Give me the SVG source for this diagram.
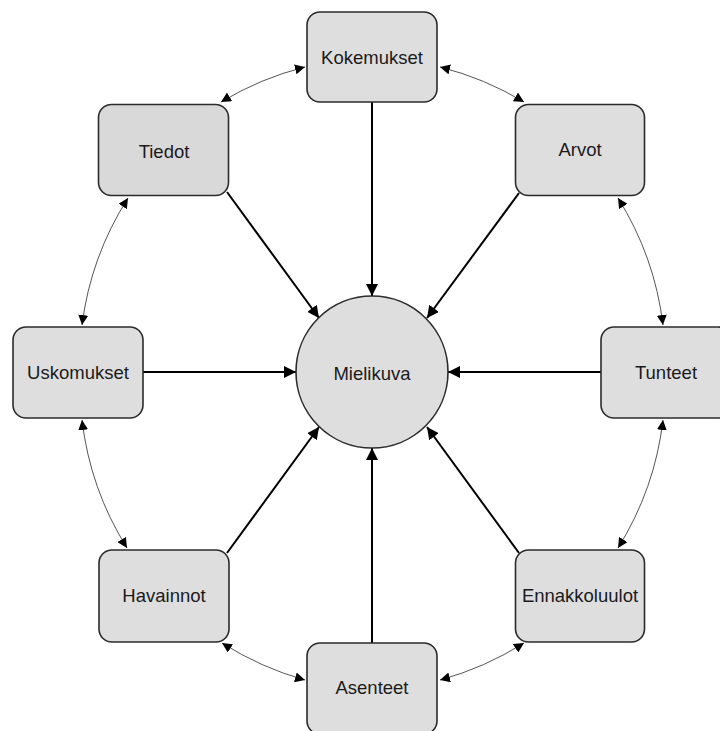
<svg xmlns="http://www.w3.org/2000/svg" width="720" height="731" viewBox="0 0 720 731">
<style>
.box{fill:#dfdedf;stroke:#2b2b2b;stroke-width:1.6}
.lbl{font-family:"Liberation Sans",Arial,sans-serif;font-size:18.5px;fill:#1a1a1a;text-anchor:middle;dominant-baseline:central}
.main{stroke:#000;stroke-width:2;fill:none;marker-end:url(#ah)}
.rel{stroke:#555;stroke-width:1;fill:none;marker-start:url(#sh);marker-end:url(#sh)}
</style>
<defs>
<marker id="ah" markerUnits="userSpaceOnUse" markerWidth="14" markerHeight="12" refX="12" refY="6" orient="auto">
<path d="M0,0 L12,6 L0,12 z" fill="#000"/>
</marker>
<marker id="sh" markerUnits="userSpaceOnUse" markerWidth="12" markerHeight="10" refX="10" refY="5" orient="auto-start-reverse">
<path d="M0,0 L10,5 L0,10 z" fill="#000"/>
</marker>
</defs>
<rect width="720" height="731" fill="#fff"/>
<g id="connectors">
<line class="main" x1="372" y1="102" x2="372" y2="296"/>
<line class="main" x1="143" y1="372" x2="296" y2="372"/>
<line class="main" x1="601" y1="372" x2="448" y2="372"/>
<line class="main" x1="372" y1="643" x2="372" y2="448"/>
<line class="main" x1="227" y1="192" x2="319" y2="318"/>
<line class="main" x1="519" y1="193" x2="427" y2="318"/>
<line class="main" x1="227" y1="553" x2="319" y2="427"/>
<line class="main" x1="519" y1="553" x2="427" y2="427"/>
<path class="rel" d="M440,67 A310,310 0 0 1 524,102"/>
<path class="rel" d="M618,198 A310,310 0 0 1 663,325"/>
<path class="rel" d="M663,420 A310,310 0 0 1 618,548"/>
<path class="rel" d="M524,643 A310,310 0 0 1 440,680"/>
<path class="rel" d="M305,680 A310,310 0 0 1 222,643"/>
<path class="rel" d="M127,548 A310,310 0 0 1 82,420"/>
<path class="rel" d="M82,325 A310,310 0 0 1 128,198"/>
<path class="rel" d="M221,102 A310,310 0 0 1 305,67"/>
</g>
<g id="mielikuva">
<circle class="box" cx="372" cy="372" r="76"/>
<text class="lbl" x="372" y="373">Mielikuva</text>
</g>
<g id="kokemukset">
<rect class="box" x="307" y="12" width="130" height="90" rx="13"/>
<text class="lbl" x="372" y="57">Kokemukset</text>
</g>
<g id="tiedot">
<rect class="box" x="98.5" y="104.5" width="130" height="91" rx="13" style="fill:#d9d9d9"/>
<text class="lbl" x="164" y="151">Tiedot</text>
</g>
<g id="arvot">
<rect class="box" x="515.5" y="104.5" width="129" height="91" rx="13"/>
<text class="lbl" x="580" y="149">Arvot</text>
</g>
<g id="uskomukset">
<rect class="box" x="13" y="327" width="130" height="91" rx="13"/>
<text class="lbl" x="78" y="372">Uskomukset</text>
</g>
<g id="tunteet">
<rect class="box" x="601" y="327" width="130" height="91" rx="13"/>
<text class="lbl" x="666" y="372">Tunteet</text>
</g>
<g id="havainnot">
<rect class="box" x="99" y="550" width="130" height="92" rx="13"/>
<text class="lbl" x="164" y="595">Havainnot</text>
</g>
<g id="ennakkoluulot">
<rect class="box" x="515.5" y="550" width="129" height="92" rx="13"/>
<text class="lbl" x="580" y="595">Ennakkoluulot</text>
</g>
<g id="asenteet">
<rect class="box" x="307" y="643" width="130" height="91" rx="13"/>
<text class="lbl" x="372" y="687">Asenteet</text>
</g>
</svg>
